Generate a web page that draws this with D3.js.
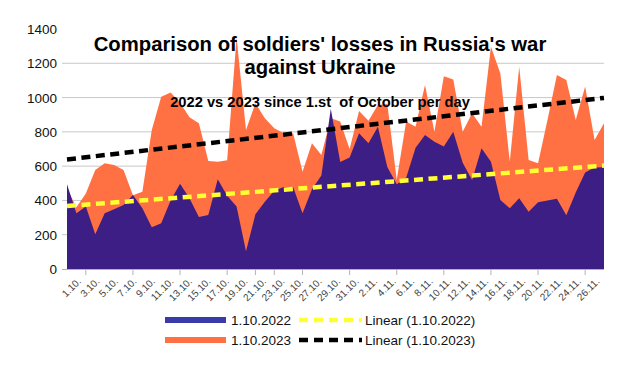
<!DOCTYPE html>
<html>
<head>
<meta charset="utf-8">
<script src="https://cdn.jsdelivr.net/npm/d3@7"></script>
<style>
  body { margin: 0; background: #fff; }
  text { font-family: "Liberation Sans", Arial, sans-serif; }
</style>
</head>
<body>
<svg id="chart"></svg>
<script>
const days = ["1.10.","2.10.","3.10.","4.10.","5.10.","6.10.","7.10.","8.10.","9.10.","10.10.",
  "11.10.","12.10.","13.10.","14.10.","15.10.","16.10.","17.10.","18.10.","19.10.","20.10.",
  "21.10.","22.10.","23.10.","24.10.","25.10.","26.10.","27.10.","28.10.","29.10.","30.10.",
  "31.10.","1.11.","2.11.","3.11.","4.11.","5.11.","6.11.","7.11.","8.11.","9.11.",
  "10.11.","11.11.","12.11.","13.11.","14.11.","15.11.","16.11.","17.11.","18.11.","19.11.",
  "20.11.","21.11.","22.11.","23.11.","24.11.","25.11.","26.11.","27.11."];

const losses2022 = [494,325,364,202,325,348,373,432,354,243,
  267,400,497,412,303,315,524,427,364,103,
  320,393,456,478,478,325,465,545,935,624,
  650,792,733,830,595,495,532,708,782,743,
  714,801,620,519,704,626,403,354,412,334,
  390,400,410,313,446,563,592,593];

const losses2023 = [470,360,441,578,617,607,578,430,450,811,
  1005,1029,970,885,850,630,625,635,1350,811,
  967,879,821,792,792,568,733,665,880,860,
  700,922,865,957,962,520,860,830,1073,800,
  1125,1105,801,908,830,1297,1140,626,1180,636,
  617,869,1132,1103,869,1064,753,850];

const yTicks = [0,200,400,600,800,1000,1200,1400];
const xTickIdx = [2,7,12,17,20,22,25,30,35,40,45,50,55];
const seriesNames = ["1.10.2022","1.10.2023"];
const trendNames = ["Linear (1.10.2022)","Linear (1.10.2023)"];

const width = 622, height = 370;
const svg = d3.select("#chart").attr("width", width).attr("height", height);

const x = d3.scaleLinear().domain([0, days.length - 1]).range([67, 604]);
const y = d3.scaleLinear().domain([0, 1400]).range([269, 29]);
// labels sit on category slots, slightly tighter than the data points
const xl = d3.scaleBand().domain(days).range([67, 604]);

// gridlines
svg.append("g")
  .selectAll("line")
  .data(yTicks.filter(d => d > 0 && d < 1400))
  .enter().append("line")
  .attr("x1", 62).attr("x2", 604)
  .attr("y1", d => y(d)).attr("y2", d => y(d))
  .attr("stroke", "#c8c8c8").attr("stroke-width", 1);

// y labels
svg.append("g")
  .selectAll("text")
  .data(yTicks)
  .enter().append("text")
  .attr("x", 57).attr("y", d => y(d) + 5)
  .attr("text-anchor", "end")
  .attr("font-size", 13.5)
  .attr("fill", "#111")
  .text(d => d);

const area = vals => d3.area()
  .x((d, i) => x(i))
  .y0(y(0))
  .y1(d => y(d))(vals);

svg.append("path").attr("d", area(losses2023)).attr("fill", "#ff7043");
svg.append("path").attr("d", area(losses2022)).attr("fill", "#3d1e85");

// x axis
svg.append("line")
  .attr("x1", 62).attr("x2", 604).attr("y1", 269.5).attr("y2", 269.5)
  .attr("stroke", "#b3b3b3");
svg.append("g")
  .selectAll("line")
  .data(xTickIdx)
  .enter().append("line")
  .attr("x1", d => x(d)).attr("x2", d => x(d))
  .attr("y1", 269).attr("y2", 275)
  .attr("stroke", "#b3b3b3");

svg.append("g")
  .selectAll("text")
  .data(days.filter((d, i) => i % 2 === 0))
  .enter().append("text")
  .attr("transform", d => `translate(${xl(d) + xl.bandwidth() / 2 + 10},282) rotate(-45)`)
  .attr("text-anchor", "end")
  .attr("font-size", 10)
  .attr("fill", "#444")
  .text(d => d);

// linear trend lines
function trend(vals) {
  const n = vals.length;
  const mx = d3.mean(vals, (d, i) => i), my = d3.mean(vals);
  let sxy = 0, sxx = 0;
  vals.forEach((v, i) => { sxy += (i - mx) * (v - my); sxx += (i - mx) * (i - mx); });
  const b = sxy / sxx, a = my - b * mx;
  return [[0, a], [n - 1, a + b * (n - 1)]];
}

const trendLine = d3.line().x(d => x(d[0])).y(d => y(d[1]));
svg.append("path").attr("d", trendLine(trend(losses2022)))
  .attr("stroke", "#ffff33").attr("stroke-width", 4.5).attr("stroke-dasharray", "9,5.5").attr("fill", "none");
svg.append("path").attr("d", trendLine(trend(losses2023)))
  .attr("stroke", "#000").attr("stroke-width", 4.5).attr("stroke-dasharray", "9,5.5").attr("fill", "none");

// titles
const title = svg.append("text")
  .attr("text-anchor", "middle")
  .attr("font-size", 20.3).attr("font-weight", "bold").attr("fill", "#000");
title.append("tspan").attr("x", 320).attr("y", 51).text("Comparison of soldiers' losses in Russia's war");
title.append("tspan").attr("x", 320).attr("y", 74).text("against Ukraine");

svg.append("text")
  .attr("x", 320).attr("y", 107)
  .attr("text-anchor", "middle")
  .attr("font-size", 14.7).attr("font-weight", "bold")
  .attr("xml:space", "preserve")
  .text("2022 vs 2023 since 1.st  of October per day");

// legend
const legend = svg.append("g");
const swatchColors = ["#3a3aa8", "#ff7043"];
const trendColors = ["#ffff33", "#000"];
[0, 1].forEach(k => {
  const ly = 320 + k * 20;
  legend.append("rect").attr("x", 165).attr("y", ly - 3).attr("width", 61).attr("height", 6)
    .attr("fill", swatchColors[k]);
  legend.append("text").attr("x", 231).attr("y", ly + 5).attr("font-size", 13.5).attr("fill", "#111")
    .text(seriesNames[k]);
  legend.append("line").attr("x1", 299).attr("x2", 362).attr("y1", ly).attr("y2", ly)
    .attr("stroke", trendColors[k]).attr("stroke-width", 4.5).attr("stroke-dasharray", "9,6");
  legend.append("text").attr("x", 365).attr("y", ly + 5).attr("font-size", 13.5).attr("fill", "#111")
    .text(trendNames[k]);
});
</script>
</body>
</html>
